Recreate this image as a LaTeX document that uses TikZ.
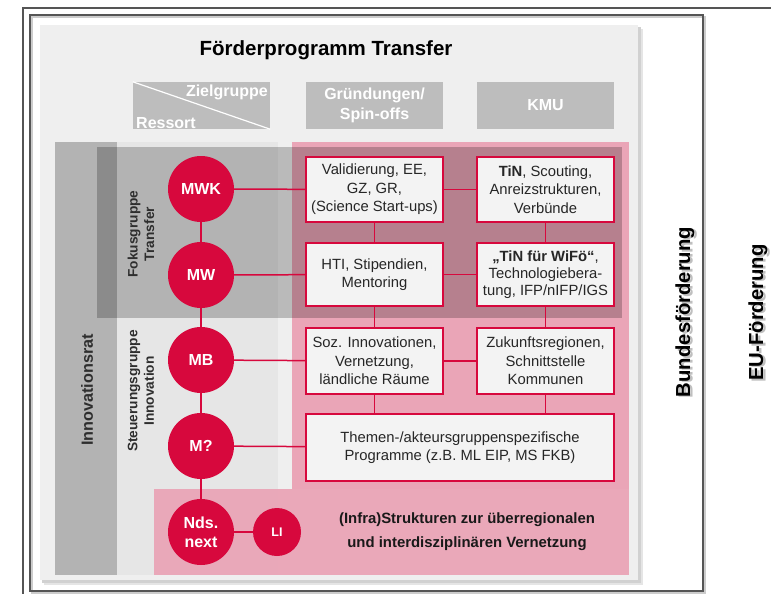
\documentclass[tikz,border=0pt]{standalone}
\usepackage{fontspec}
\setmainfont{Liberation Sans}
\definecolor{panelgray}{HTML}{EFEFEF}
\definecolor{headgray}{HTML}{BDBDBD}
\definecolor{ratgray}{HTML}{B3B3B3}
\definecolor{steergray}{HTML}{E6E6E6}
\definecolor{pinkarea}{HTML}{EAA5B7}
\definecolor{mkred}{HTML}{D7083D}
\definecolor{boxfill}{HTML}{F3F3F3}
\definecolor{framegray}{HTML}{555555}
\definecolor{labelgray}{HTML}{2E2E2E}
\tikzset{
  circ/.style={circle,fill=mkred,text=white,font=\fontsize{16}{19}\selectfont\bfseries,
    inner sep=0pt,align=center},
  progbox/.style={draw=mkred,line width=1.3pt,fill=boxfill,inner sep=0pt,align=center,
    text=black!85,font=\fontsize{14.8}{18.5}\selectfont},
  headbox/.style={fill=headgray,inner sep=0pt,align=center,text=white,
    minimum width=137pt,minimum height=47pt,font=\fontsize{16}{20}\selectfont\bfseries},
  link/.style={draw=mkred,line width=1.5pt},
  vlabel/.style={rotate=90,align=center,text=labelgray,font=\fontsize{13.7}{16.5}\selectfont\bfseries},
  sidelabel/.style={rotate=90,text=black,font=\fontsize{20.3}{24}\selectfont\bfseries}
}
\begin{document}
\begin{tikzpicture}[x=1pt,y=-1pt]
\useasboundingbox (0,0) rectangle (771,594);
\fill[white] (0,0) rectangle (771,594);

% outer frame lines
\draw[framegray,line width=1.1pt] (23,594) -- (23,8) -- (771,8);
% inner frame with a soft shadow
\draw[black!20,line width=2pt] (32,17) rectangle (705,593);
\draw[framegray,line width=1.3pt] (30,15) rectangle (703,591);

% program panel with drop shadow
\fill[black!10] (44,29) rectangle (643,585);
\fill[black!18] (42,27) rectangle (641,583);
\fill[panelgray] (40,25) rectangle (638,580);

% title
\node[font=\fontsize{20.5}{24}\selectfont\bfseries,text=black] (title) at (326,50) {Förderprogramm Transfer};

% header row
\node[headbox] (zr) at (201.5,105.5) {};
\draw[white,line width=1.2pt] (zr.north west) -- (zr.south east);
\node[anchor=north east,text=white,font=\fontsize{16}{19}\selectfont\bfseries,inner sep=0pt] (zg) at (268,85) {Zielgruppe};
\node[anchor=south west,text=white,font=\fontsize{16}{19}\selectfont\bfseries,inner sep=0pt] (rs) at (136,129) {Ressort};
\node[headbox] (gs) at (374.5,105.5) {Gründungen/\\Spin-offs};
\node[headbox] (kmu) at (545.5,105.5) {KMU};

% background areas
\fill[ratgray] (55,142) rectangle (117,575);
\fill[steergray] (117,142) rectangle (278,575);
\fill[pinkarea] (292,142) rectangle (629,489);
\fill[pinkarea,opacity=0.95] (154,489) rectangle (629,575);
% focus group band
\fill[black,opacity=0.22] (97,147) rectangle (622,318);

% vertical group labels
\node[vlabel,font=\fontsize{16.2}{19}\selectfont\bfseries] (rat) at (87,390) {Innovationsrat};
\node[vlabel] (fok) at (141,234) {Fokusgruppe\\Transfer};
\node[vlabel] (steu) at (141,391) {Steuerungsgruppe\\Innovation};

% ministries
\node[circ,minimum size=66pt] (mwk) at (201,189) {MWK};
\node[circ,minimum size=66pt] (mw) at (201,275) {MW};
\node[circ,minimum size=66pt] (mb) at (201,360) {MB};
\node[circ,minimum size=66pt] (mq) at (201,446) {M?};
\node[circ,minimum size=66pt] (nds) at (201,532) {Nds.\\next};
\node[circ,minimum size=48pt,font=\fontsize{12.5}{15}\selectfont\bfseries] (li) at (277,532) {LI};

% programme boxes
\node[progbox,minimum width=137pt,minimum height=65pt] (val) at (374.5,189.5)
  {Validierung, EE,\\GZ, GR,\\(Science Start-ups)};
\node[progbox,minimum width=137pt,minimum height=65pt] (tin) at (545.5,189.5)
  {\textbf{TiN}, Scouting,\\Anreizstrukturen,\\Verbünde};
\node[progbox,minimum width=137pt,minimum height=63pt] (hti) at (374.5,274.5)
  {HTI, Stipendien,\\Mentoring};
\node[progbox,minimum width=137pt,minimum height=63pt,font=\fontsize{14.8}{17}\selectfont] (wifo) at (545.5,274.5)
  {\textbf{„TiN für WiFö“},\\Technologiebera-\\tung, IFP/nIFP/IGS};
\node[progbox,minimum width=137pt,minimum height=66pt] (soz) at (374.5,361)
  {Soz. Innovationen,\\Vernetzung,\\ländliche Räume};
\node[progbox,minimum width=137pt,minimum height=66pt] (zuk) at (545.5,361)
  {Zukunftsregionen,\\Schnittstelle\\Kommunen};
\node[progbox,minimum width=308pt,minimum height=67pt] (them) at (460,447.5)
  {Themen-/akteursgruppenspezifische\\Programme (z.B. ML EIP, MS FKB)};
\node[align=center,text=black!90,font=\fontsize{14.9}{24}\selectfont\bfseries] (infra) at (467,532)
  {(Infra)Strukturen zur überregionalen\\und interdisziplinären Vernetzung};

% connectors
\draw[link] (mwk) -- (mw);
\draw[link] (mw) -- (mb);
\draw[link] (mb) -- (mq);
\draw[link] (mq) -- (nds);
\draw[link] (nds) -- (li);
\draw[link] (mwk) -- (val);
\draw[link] (val) -- (tin);
\draw[link] (mw) -- (hti);
\draw[link] (hti) -- (wifo);
\draw[link] (mb) -- (soz);
\draw[link] (soz) -- (zuk);
\draw[link] (mq) -- (them);
\draw[link] (val) -- (hti);
\draw[link] (hti) -- (soz);
\draw[link] (soz.south) -- (soz.south |- them.north);
\draw[link] (tin) -- (wifo);
\draw[link] (wifo) -- (zuk);
\draw[link] (zuk.south) -- (zuk.south |- them.north);

% funding levels, with a soft shadow
\node[sidelabel,text=black!25] (bundsh) at (687.5,313.5) {Bundesförderung};
\node[sidelabel] (bund) at (685,312) {Bundesförderung};
\node[sidelabel,text=black!25] (eush) at (760.5,314) {EU-Förderung};
\node[sidelabel] (eu) at (758,312.5) {EU-Förderung};
\end{tikzpicture}
\end{document}
